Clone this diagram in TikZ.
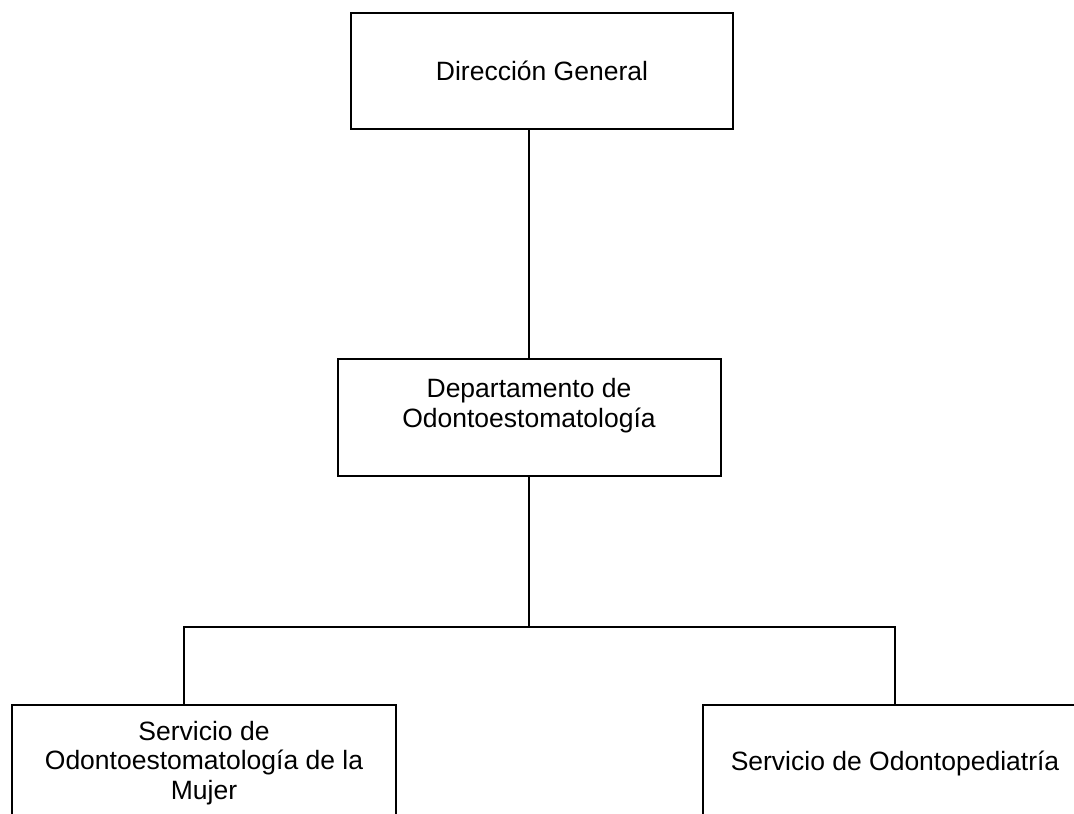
\documentclass[tikz,border=0pt]{standalone}
\usepackage{fontspec}
\setmainfont{Liberation Sans}

\tikzset{
	unidad/.style={draw, align=center, inner sep=0pt,
		font=\fontsize{26.5}{29.5}\selectfont},
}

\begin{document}
\begin{tikzpicture}[x=1pt, y=-1pt, line width=2pt]
		\useasboundingbox (0,0) rectangle (1074,814);
		\clip (0,0) rectangle (1074,814);
		
		\node[unidad, minimum width=382pt, minimum height=116pt] (DG) at (542, 71) {Dirección General};
		\node[unidad, minimum width=383pt, minimum height=117pt] (dept) at (529, 417.5) {Departamento de\\Odontoestomatología\\~};	% empty last line lifts the text
		\node[unidad, minimum width=384pt, minimum height=116pt] (mujer) at (204, 763) {Servicio de\\Odontoestomatología de la\\Mujer};
		\node[unidad, minimum width=384pt, minimum height=116pt] (pedia) at (895, 763) {Servicio de Odontopediatría};
		
		\coordinate (bus) at (529, 627);
		\coordinate (busL) at (184, 627);
		\coordinate (busR) at (895, 627);
		
		\draw (dept.north |- DG.south) -- (dept.north);
		\draw (dept.south) -- (bus);
		\draw (mujer.north -| busL) -- (busL) -- (busR) -- (pedia.north -| busR);
	\end{tikzpicture}
\end{document}
